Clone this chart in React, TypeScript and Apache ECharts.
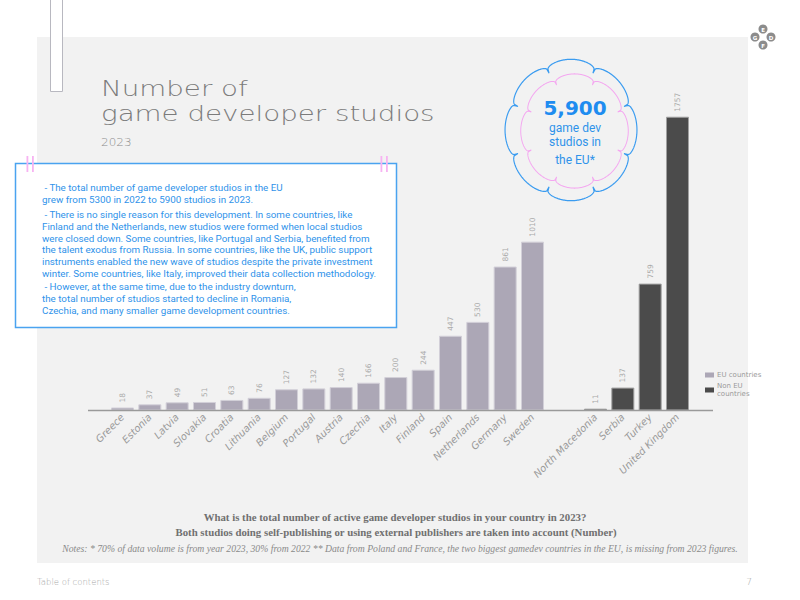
import React, { useEffect, useRef } from 'react';
import * as echarts from 'echarts';

const euCountries = ['Greece', 'Estonia', 'Latvia', 'Slovakia', 'Croatia', 'Lithuania', 'Belgium', 'Portugal', 'Austria', 'Czechia', 'Italy', 'Finland', 'Spain', 'Netherlands', 'Germany', 'Sweden'];
const euValues = [18, 37, 49, 51, 63, 76, 127, 132, 140, 166, 200, 244, 447, 530, 861, 1010];
const nonEuCountries = ['North Macedonia', 'Serbia', 'Turkey', 'United Kingdom'];
const nonEuValues = [11, 137, 759, 1757];
const seriesNames = ['EU countries', 'Non EU countries'];

const titleLines = ['Number of', 'game developer studios'];
const subtitle = '2023';
const paragraphs = [
  ' - The total number of game developer studios in the EU\ngrew from 5300 in 2022 to 5900 studios in 2023.',
  ' - There is no single reason for this development. In some countries, like\nFinland and the Netherlands, new studios were formed when local studios\nwere closed down. Some countries, like Portugal and Serbia, benefited from\nthe talent exodus from Russia. In some countries, like the UK, public support\ninstruments enabled the new wave of studios despite the private investment\nwinter. Some countries, like Italy, improved their data collection methodology.',
  ' - However, at the same time, due to the industry downturn,\nthe total number of studios started to decline in Romania,\nCzechia, and many smaller game development countries.',
];
const bigNumber = '5,900';
const bigCaption = ['game dev', 'studios in', 'the EU*'];
const question = 'What is the total number of active game developer studios in your country in 2023?';
const question2 = 'Both studios doing self-publishing or using external publishers are taken into account (Number)';
const notes = 'Notes: * 70% of data volume is from year 2023, 30% from 2022 ** Data from Poland and France, the two biggest gamedev countries in the EU, is missing from 2023 figures.';
const footerLeft = 'Table of contents';
const footerRight = '7';
const logoLetters = ['E', 'G', 'D', 'F'];

function flowerPath(R: number, depth: number, lobes: number): string {
  const pts: string[] = [];
  const N = 720;
  for (let i = 0; i <= N; i++) {
    const t = (i / N) * Math.PI * 2;
    const s = Math.abs(Math.sin((lobes / 2) * t - Math.PI / 2));
    const r = R * (1 - depth + depth * Math.pow(s, 0.22));
    pts.push((i === 0 ? 'M' : 'L') + (r * Math.cos(t)).toFixed(2) + ' ' + (r * Math.sin(t)).toFixed(2));
  }
  return pts.join(' ') + ' Z';
}

echarts.graphic.registerShape('cloudOuter', echarts.graphic.extendPath(flowerPath(68, 0.13, 8), {}));
echarts.graphic.registerShape('cloudInner', echarts.graphic.extendPath(flowerPath(56, 0.13, 8), {}));

const SANS = 'DejaVu Sans';
const BODY = 'Roboto';
const SERIF = 'Liberation Serif';

export default function App() {
  const ref = useRef<HTMLDivElement>(null);
  useEffect(() => {
    if (!ref.current) return;
    const chart = echarts.init(ref.current, undefined, { renderer: 'svg' });
    const yTop = 76.1;
    const yBottom = 189.5;
    const labelCfg = {
      show: true,
      position: 'top',
      rotate: 90,
      align: 'left',
      verticalAlign: 'middle',
      distance: 5,
      fontSize: 7.5,
      color: '#aaaaaa',
      fontFamily: SANS,
    };
    const axisLabelCfg = {
      rotate: 45,
      interval: 0,
      margin: 5,
      fontSize: 10,
      fontStyle: 'italic',
      color: '#9a9a9a',
      fontFamily: SANS,
    };
    const logoPos = [[0, -8], [-8, 0], [8, 0], [0, 8]];
    const graphic: any[] = [
      { type: 'rect', z: -10, shape: { x: 37, y: 37, width: 711, height: 526 }, style: { fill: '#f2f2f2' } },
      { type: 'rect', z: 10, shape: { x: 50.5, y: -2, width: 12, height: 93.5 }, style: { fill: '#ffffff', stroke: '#b8b8c0', lineWidth: 1 } },
      ...logoLetters.map((l, i) => ({
        type: 'group', x: 763 + logoPos[i][0], y: 37 + logoPos[i][1], z: 10,
        children: [
          { type: 'circle', shape: { cx: 0, cy: 0, r: 4.5 }, style: { fill: '#8c8c8c' } },
          { type: 'text', style: { text: l, x: 0, y: 0.5, align: 'center', verticalAlign: 'middle', fontSize: 5.5, fontWeight: 'bold', fill: '#ffffff', fontFamily: SANS } },
        ],
      })),
      { type: 'text', z: 10, x: 101, y: 88.6, scaleX: 1.32, style: { text: titleLines[0], fontSize: 21, fontWeight: 200, fontFamily: SANS, fill: '#7b7b7b', verticalAlign: 'middle' } },
      { type: 'text', z: 10, x: 101, y: 113.6, scaleX: 1.32, style: { text: titleLines[1], fontSize: 21, fontWeight: 200, fontFamily: SANS, fill: '#7b7b7b', verticalAlign: 'middle' } },
      { type: 'text', z: 10, x: 101, y: 142.5, scaleX: 1.2, style: { text: subtitle, fontSize: 10, fontWeight: 200, fontFamily: SANS, fill: '#8a8a8a', verticalAlign: 'middle' } },
      { type: 'rect', z: 10, shape: { x: 15.5, y: 163.5, width: 381, height: 164 }, style: { fill: '#ffffff', stroke: '#4aa3f0', lineWidth: 1.5 } },
      { type: 'rect', z: 11, shape: { x: 26.5, y: 156, width: 1.8, height: 16 }, style: { fill: '#f7b3f2' } },
      { type: 'rect', z: 11, shape: { x: 32, y: 156, width: 1.8, height: 16 }, style: { fill: '#f7b3f2' } },
      { type: 'rect', z: 11, shape: { x: 380.5, y: 156, width: 1.8, height: 16 }, style: { fill: '#f7b3f2' } },
      { type: 'rect', z: 11, shape: { x: 386, y: 156, width: 1.8, height: 16 }, style: { fill: '#f7b3f2' } },
      ...paragraphs.map((p, i) => ({
        type: 'text', z: 12, x: 42, y: [182, 209, 281][i],
        style: { text: p, fontSize: 9.8, lineHeight: 11.7, fontFamily: BODY, fill: '#2f93ea', verticalAlign: 'top' },
      })),
      { type: 'cloudOuter', z: 10, x: 571, y: 130, scaleX: 0.97, scaleY: 1.04, style: { fill: 'none', stroke: '#3b9cf0', lineWidth: 1.2 } },
      { type: 'cloudInner', z: 10, x: 574.5, y: 131, scaleX: 0.96, scaleY: 1.02, style: { fill: 'none', stroke: '#f4a6f0', lineWidth: 1 } },
      { type: 'text', z: 11, x: 575, y: 108, style: { text: bigNumber, fontSize: 20, fontWeight: 'bold', fontFamily: SANS, fill: '#1e8cf0', align: 'center', verticalAlign: 'middle' } },
      ...bigCaption.map((c, i) => ({
        type: 'text', z: 11, x: 575, y: [128, 142, 160][i],
        style: { text: c, fontSize: 12, fontFamily: BODY, fill: '#2f93ea', align: 'center', verticalAlign: 'middle' },
      })),
      { type: 'line', z: 5, shape: { x1: 88, y1: 410.5, x2: 713, y2: 410.5 }, style: { stroke: '#9a9a9a', lineWidth: 1.5 } },
      { type: 'text', z: 10, x: 395, y: 517, style: { text: question, fontSize: 10.8, fontWeight: 'bold', fontFamily: SERIF, fill: '#707070', align: 'center', verticalAlign: 'middle' } },
      { type: 'text', z: 10, x: 396, y: 532, style: { text: question2, fontSize: 10.8, fontWeight: 'bold', fontFamily: SERIF, fill: '#707070', align: 'center', verticalAlign: 'middle' } },
      { type: 'text', z: 10, x: 400, y: 548, style: { text: notes, fontSize: 9.7, fontStyle: 'italic', fontFamily: SERIF, fill: '#8a8a8a', align: 'center', verticalAlign: 'middle' } },
      { type: 'text', z: 10, x: 37, y: 582, style: { text: footerLeft, fontSize: 8.5, fontWeight: 200, fontFamily: SANS, fill: '#a8a8a8', verticalAlign: 'middle' } },
      { type: 'text', z: 10, x: 752, y: 582, style: { text: footerRight, fontSize: 9, fontWeight: 200, fontFamily: SANS, fill: '#a8a8a8', align: 'right', verticalAlign: 'middle' } },
    ];
    chart.setOption({
      animation: false,
      backgroundColor: '#ffffff',
      graphic,
      legend: {
        left: 700,
        top: 366,
        orient: 'vertical',
        icon: 'rect',
        itemWidth: 9,
        itemHeight: 5,
        itemGap: 3,
        itemStyle: { borderWidth: 0 },
        textStyle: { fontSize: 7, color: '#9a9a9a', fontFamily: SANS, lineHeight: 8, padding: [0, 0, 0, -2] },
        formatter: (n: string) => (n === seriesNames[1] ? 'Non EU\ncountries' : n),
        data: seriesNames,
      },
      grid: [
        { left: 108.83, width: 437.33, top: yTop, bottom: yBottom },
        { left: 581.83, width: 109.33, top: yTop, bottom: yBottom },
      ],
      xAxis: [
        { type: 'category', gridIndex: 0, data: euCountries, axisLine: { show: false }, axisTick: { show: false }, axisLabel: axisLabelCfg },
        { type: 'category', gridIndex: 1, data: nonEuCountries, axisLine: { show: false }, axisTick: { show: false }, axisLabel: axisLabelCfg },
      ],
      yAxis: [
        { type: 'value', gridIndex: 0, min: 0, max: 2000, show: false, splitLine: { show: false } },
        { type: 'value', gridIndex: 1, min: 0, max: 2000, show: false, splitLine: { show: false } },
      ],
      series: [
        {
          name: seriesNames[0], type: 'bar', xAxisIndex: 0, yAxisIndex: 0, data: euValues, barWidth: 23,
          itemStyle: { color: '#aca7b6', borderColor: '#d2cfd8', borderWidth: 1 },
          label: labelCfg,
        },
        {
          name: seriesNames[1], type: 'bar', xAxisIndex: 1, yAxisIndex: 1, data: nonEuValues, barWidth: 23,
          itemStyle: { color: '#4b4b4b', borderColor: '#a0a0a0', borderWidth: 1 },
          label: labelCfg,
        },
      ],
    });
    return () => chart.dispose();
  }, []);
  return <div ref={ref} style={{ position: 'fixed', left: 0, top: 0, width: 800, height: 600 }} />;
}
